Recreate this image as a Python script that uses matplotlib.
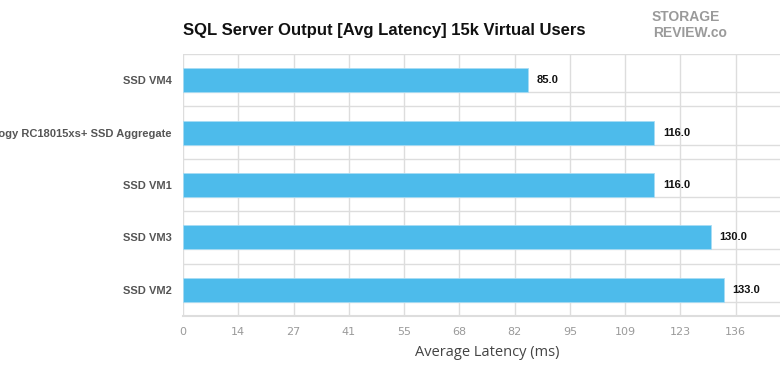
import numpy as np
import matplotlib
matplotlib.use("Agg")
import matplotlib.pyplot as plt

categories = ["SSD VM4", "Synology RC18015xs+ SSD Aggregate", "SSD VM1", "SSD VM3", "SSD VM2"]
latency = [85.0, 116.0, 116.0, 130.0, 133.0]
xticks = [0, 13.6, 27.2, 40.8, 54.4, 68, 81.6, 95.2, 108.8, 122.4, 136]
xtick_labels = ["0", "14", "27", "41", "55", "68", "82", "95", "109", "123", "136"]

bar_color = "#4dbbeb"
grid_color = "#dddddd"
bar_h = 0.46

fig = plt.figure(figsize=(7.8, 3.8), dpi=100)
# plot area runs a little past the right edge of the picture, like the original
ax = fig.add_axes([183 / 780, 64 / 380, (791 - 183) / 780, 262 / 380])

y = np.arange(len(categories))
ax.barh(y, latency, height=bar_h, color=bar_color, edgecolor="#a8dcf4", linewidth=0.6, zorder=3)

for yi, v in zip(y, latency):
    ax.annotate(f"{v:.1f}", (v, yi), xytext=(6, 0), textcoords="offset points",
                va="center", ha="left", fontsize=8, fontweight="bold",
                family="Liberation Sans", color="#111111")

ax.set_xlim(0, 149.6)
ax.set_ylim(len(categories) - 0.5, -0.5)
ax.set_xticks(xticks)
ax.set_xticklabels(xtick_labels, color="#9a9a9a", fontsize=8, family="DejaVu Sans")
ax.set_yticks(y)
ax.set_yticklabels(categories, fontsize=8, fontweight="bold", family="Liberation Sans", color="#555555")
# category boundaries plus a line under each bar
ax.set_yticks(list(np.arange(len(categories) + 1) - 0.5) + list(y + bar_h / 2), minor=True)
ax.tick_params(axis="y", which="both", length=0, pad=8)
ax.tick_params(axis="x", length=0, pad=8)
ax.grid(axis="x", color=grid_color, linewidth=1, zorder=0)
ax.grid(axis="y", which="minor", color=grid_color, linewidth=1, zorder=0)
for s in ["top", "right", "left"]:
    ax.spines[s].set_visible(False)
ax.spines["bottom"].set_color(grid_color)
ax.spines["bottom"].set_linewidth(1.5)

ax.set_xlabel("Average Latency (ms)", fontsize=10.5, color="#444444", family="Open Sans", labelpad=6)

fig.text(183 / 780, 1 - 30 / 380, "SQL Server Output [Avg Latency] 15k Virtual Users",
         fontsize=12, fontweight="bold", family="Liberation Sans", color="#111111", va="center", ha="left")

# logo
fig.text(686 / 780, 1 - 17 / 380, "STORAGE", fontsize=10, fontweight="bold", family="Liberation Sans",
         color="#9a9a9a", ha="center", va="center")
fig.text(690 / 780, 1 - 33 / 380, "REVIEW.co", fontsize=10, fontweight="bold", family="Liberation Sans",
         color="#9a9a9a", ha="center", va="center")

fig.savefig("out.png", dpi=100)
